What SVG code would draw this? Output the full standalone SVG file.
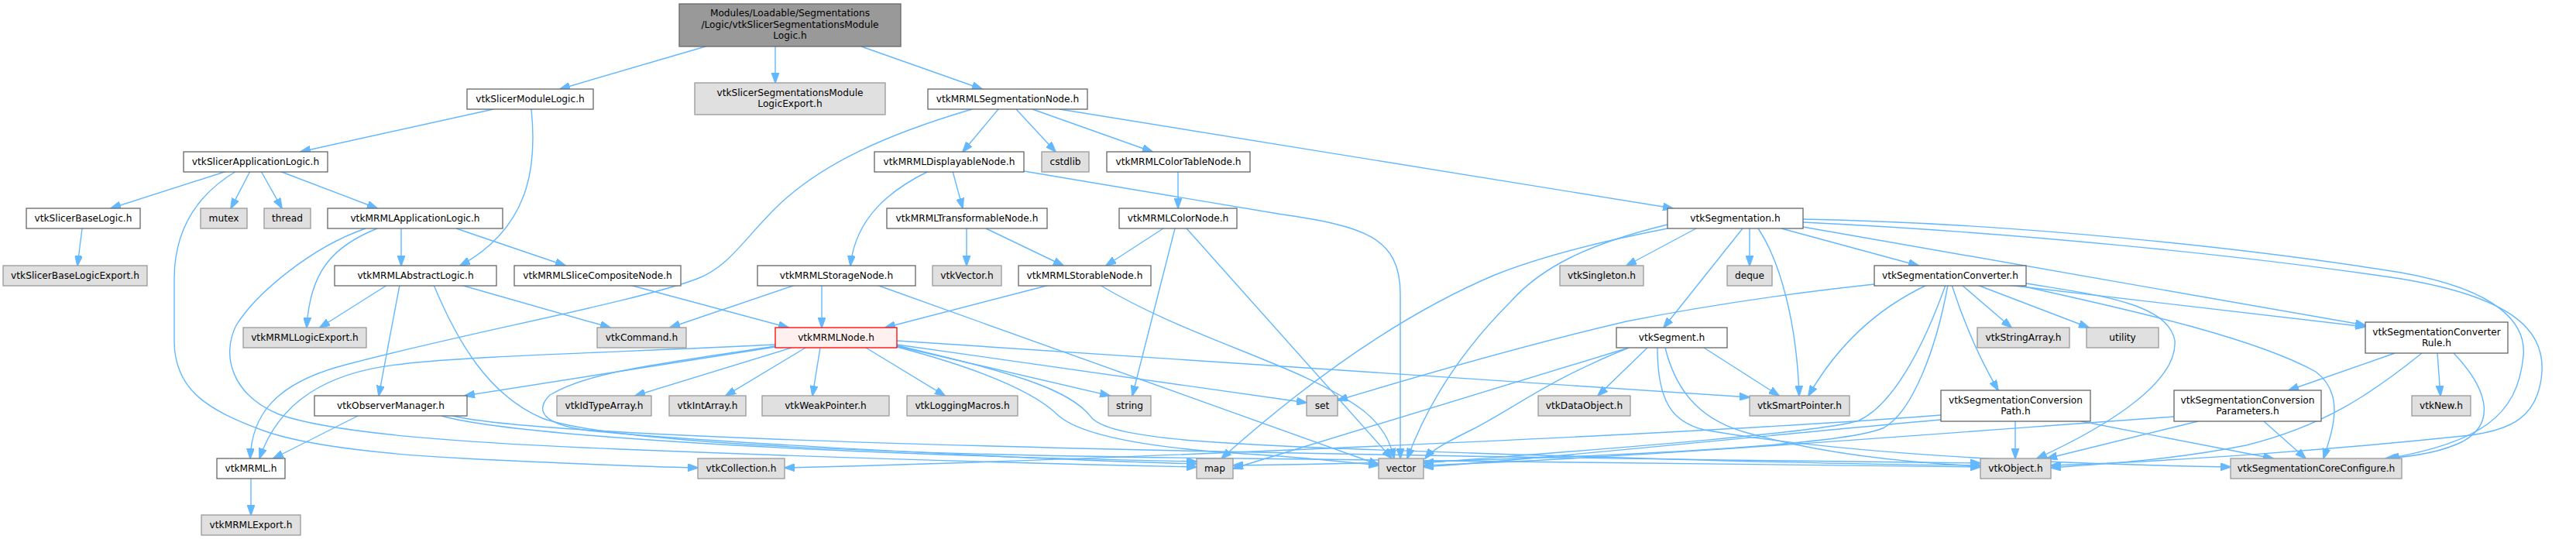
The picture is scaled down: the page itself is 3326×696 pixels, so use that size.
<svg xmlns="http://www.w3.org/2000/svg" width="3326" height="696" viewBox="0 0 3326 696">
<style>
.n rect{stroke-width:1.3}
.w rect{fill:#fff;stroke:#666}
.g rect{fill:#e0e0e0;stroke:#999}
.r rect{fill:#999;stroke:#666}
.m rect{fill:#fff0f0;stroke:#f00}
text{font-family:"DejaVu Sans","Liberation Sans",sans-serif;font-size:12.2px;text-anchor:middle;fill:#000}
#edges path{fill:none;stroke:#63b8ff;stroke-width:1.4;marker-end:url(#a)}
</style>
<defs>
<marker id="a" viewBox="0 0 14 10" refX="13" refY="5" markerWidth="14" markerHeight="10" markerUnits="userSpaceOnUse" orient="auto">
<path d="M0,0 L14,5 L0,10 z" fill="#63b8ff" stroke="#63b8ff" stroke-width="1"/>
</marker>
</defs>
<rect width="3326" height="696" fill="#fff"/>
<g id="edges">
<path d="M911,60 L723,115"/>
<path d="M1001,60 L1001,107"/>
<path d="M1112,60 L1268,115"/>
<path d="M637,141 L388,196"/>
<path d="M686,141 C692,200 692,290 594,343"/>
<path d="M293,221 L143,269"/>
<path d="M305,221 C260,248 225,290 225,360 L225,440 C225,505 270,530 340,556 C400,578 520,588 600,592 C700,597 800,602 901,604"/>
<path d="M323,221 L298,269"/>
<path d="M337,221 L364,269"/>
<path d="M361,221 L487,269"/>
<path d="M487,295 C430,318 400,350 396,423"/>
<path d="M518,295 L518,343"/>
<path d="M589,295 L730,343"/>
<path d="M472,295 C400,320 330,380 305,420 C285,460 300,510 360,535 C430,560 600,572 800,580 C1100,592 1400,600 1545,603"/>
<path d="M1289,141 L1243,196"/>
<path d="M1312,141 L1363,196"/>
<path d="M1333,141 L1488,196"/>
<path d="M1368,141 L2160,269"/>
<path d="M1255,141 C1150,172 1060,210 1000,270 C960,310 940,345 900,360 C820,390 600,430 450,470 C350,495 325,540 323,592"/>
<path d="M1230,221 L1243,269"/>
<path d="M1199,221 C1150,245 1105,280 1098,343"/>
<path d="M1322,221 L1650,276 C1760,292 1808,305 1808,380 L1808,592"/>
<path d="M1521,221 L1521,269"/>
<path d="M1248,295 L1248,343"/>
<path d="M1273,295 L1373,343"/>
<path d="M1502,295 L1428,343"/>
<path d="M1517,295 L1462,511"/>
<path d="M1532,295 L1797,592"/>
<path d="M106,295 L100,343"/>
<path d="M500,368 L413,423"/>
<path d="M516,368 L489,511"/>
<path d="M595,368 L788,423"/>
<path d="M560,368 C590,440 630,510 700,540 C800,575 1200,588 1600,592 C2000,596 2300,600 2557,603"/>
<path d="M813,368 L1018,423"/>
<path d="M1027,368 L865,423"/>
<path d="M1061,368 L1061,423"/>
<path d="M1132,368 L1780,600"/>
<path d="M1355,368 L1143,423"/>
<path d="M1420,368 C1540,440 1680,470 1760,530 C1785,550 1795,570 1800,592"/>
<path d="M1001,445 C800,455 600,460 520,470 C420,480 360,520 335,592"/>
<path d="M1001,448 L600,511"/>
<path d="M1022,449 L820,511"/>
<path d="M1040,449 L937,511"/>
<path d="M1059,449 L1049,511"/>
<path d="M1118,449 L1220,511"/>
<path d="M1158,447 L1433,511"/>
<path d="M1158,445 L1687,520"/>
<path d="M1158,440 L2259,513"/>
<path d="M1158,446 C1300,480 1380,500 1410,540 C1440,570 1600,575 1900,585 C2200,595 2400,600 2557,601"/>
<path d="M1158,448 C1280,480 1340,510 1367,537 C1400,565 1500,580 1623,587 C1700,592 1740,597 1780,601"/>
<path d="M1001,447 C850,470 760,480 710,510 C690,530 700,548 760,556 C900,570 1300,592 1545,599"/>
<path d="M462,537 L353,592"/>
<path d="M570,537 C650,560 1000,585 1545,596"/>
<path d="M585,537 C700,565 1400,585 2557,598"/>
<path d="M324,617 L324,665"/>
<path d="M2190,295 L2100,343"/>
<path d="M2153,290 C2050,315 1990,345 1950,390 C1880,460 1840,530 1817,592"/>
<path d="M2153,295 C2050,315 1980,335 1930,355 C1800,410 1680,500 1577,592"/>
<path d="M2250,295 L2148,423"/>
<path d="M2259,295 L2259,343"/>
<path d="M2270,295 C2300,340 2320,420 2323,511"/>
<path d="M2300,295 L2477,343"/>
<path d="M2328,293 L3054,420"/>
<path d="M2328,283 C2600,288 2900,320 3100,352 C3230,375 3262,420 3258,460 C3250,540 3200,570 3085,592"/>
<path d="M2328,287 C2600,300 2900,330 3100,360 C3250,385 3285,430 3282,480 C3278,540 3240,555 3190,562 C3000,582 2800,596 2648,601"/>
<path d="M2420,367 C2300,380 2200,395 2100,415 C1950,450 1800,495 1727,517"/>
<path d="M2488,368 C2420,400 2370,450 2335,511"/>
<path d="M2512,368 C2490,430 2450,520 2400,543 C2350,560 2000,585 1838,598"/>
<path d="M2515,368 C2500,450 2470,530 2433,552 C2380,578 2000,595 1592,601"/>
<path d="M2520,368 C2540,430 2560,470 2580,504"/>
<path d="M2533,368 L2597,423"/>
<path d="M2553,368 L2697,423"/>
<path d="M2592,368 L3054,422"/>
<path d="M2616,366 C2700,380 2800,390 2808,440 C2812,500 2700,560 2630,592"/>
<path d="M2605,368 C2700,390 2900,430 2990,480 C3030,510 3010,560 3000,592"/>
<path d="M2103,449 L1592,605"/>
<path d="M2103,449 C2000,490 1950,530 1900,555 C1870,570 1850,580 1840,592"/>
<path d="M2127,449 L2063,511"/>
<path d="M2200,449 L2297,511"/>
<path d="M2150,449 C2165,510 2200,545 2260,560 C2350,585 2450,597 2557,602"/>
<path d="M2140,449 C2140,520 2160,545 2200,555 C2400,590 2700,600 2880,603"/>
<path d="M2506,536 C2200,560 1400,595 1013,604"/>
<path d="M2506,542 C2300,560 2000,592 1838,603"/>
<path d="M2602,544 L2602,592"/>
<path d="M2687,544 L2935,592"/>
<path d="M2807,538 C2500,560 2100,592 1838,601"/>
<path d="M2838,544 L2643,592"/>
<path d="M2923,544 L2977,592"/>
<path d="M3092,456 L2955,504"/>
<path d="M3127,456 C3060,510 3000,550 2900,575 C2800,595 2700,600 2648,604"/>
<path d="M3147,456 L3151,511"/>
<path d="M3168,456 C3210,500 3225,545 3180,570 C3150,585 3110,590 3080,592"/>
</g>
<g id="n0" class="n r"><rect x="877" y="5" width="286" height="55"/><text x="1020" y="21">Modules/Loadable/Segmentations</text><text x="1020" y="35.5">/Logic/vtkSlicerSegmentationsModule</text><text x="1020" y="50">Logic.h</text></g>
<g id="n1" class="n w"><rect x="603" y="115" width="163" height="26"/><text x="684.5" y="132.3">vtkSlicerModuleLogic.h</text></g>
<g id="n2" class="n g"><rect x="897" y="107" width="246" height="41"/><text x="1020" y="123.5">vtkSlicerSegmentationsModule</text><text x="1020" y="138">LogicExport.h</text></g>
<g id="n3" class="n w"><rect x="1198" y="115" width="206" height="26"/><text x="1301" y="132.3">vtkMRMLSegmentationNode.h</text></g>
<g id="n4" class="n w"><rect x="237" y="196" width="186" height="26"/><text x="330" y="213.3">vtkSlicerApplicationLogic.h</text></g>
<g id="n5" class="n w"><rect x="1129" y="196" width="193" height="26"/><text x="1225.5" y="213.3">vtkMRMLDisplayableNode.h</text></g>
<g id="n6" class="n g"><rect x="1345" y="196" width="61" height="26"/><text x="1375.5" y="213.3">cstdlib</text></g>
<g id="n7" class="n w"><rect x="1429" y="196" width="185" height="26"/><text x="1521.5" y="213.3">vtkMRMLColorTableNode.h</text></g>
<g id="n8" class="n w"><rect x="34" y="269" width="147" height="26"/><text x="107.5" y="286.3">vtkSlicerBaseLogic.h</text></g>
<g id="n9" class="n g"><rect x="259" y="269" width="60" height="26"/><text x="289" y="286.3">mutex</text></g>
<g id="n10" class="n g"><rect x="341" y="269" width="60" height="26"/><text x="371" y="286.3">thread</text></g>
<g id="n11" class="n w"><rect x="423" y="269" width="226" height="26"/><text x="536" y="286.3">vtkMRMLApplicationLogic.h</text></g>
<g id="n12" class="n w"><rect x="1145" y="269" width="207" height="26"/><text x="1248.5" y="286.3">vtkMRMLTransformableNode.h</text></g>
<g id="n13" class="n w"><rect x="1445" y="269" width="152" height="26"/><text x="1521" y="286.3">vtkMRMLColorNode.h</text></g>
<g id="n14" class="n w"><rect x="2153" y="269" width="175" height="26"/><text x="2240.5" y="286.3">vtkSegmentation.h</text></g>
<g id="n15" class="n g"><rect x="4" y="343" width="186" height="26"/><text x="97" y="360.3">vtkSlicerBaseLogicExport.h</text></g>
<g id="n16" class="n w"><rect x="432" y="343" width="209" height="26"/><text x="536.5" y="360.3">vtkMRMLAbstractLogic.h</text></g>
<g id="n17" class="n w"><rect x="664" y="343" width="215" height="26"/><text x="771.5" y="360.3">vtkMRMLSliceCompositeNode.h</text></g>
<g id="n18" class="n w"><rect x="978" y="343" width="204" height="26"/><text x="1080" y="360.3">vtkMRMLStorageNode.h</text></g>
<g id="n19" class="n g"><rect x="1204" y="343" width="89" height="26"/><text x="1248.5" y="360.3">vtkVector.h</text></g>
<g id="n20" class="n w"><rect x="1315" y="343" width="171" height="26"/><text x="1400.5" y="360.3">vtkMRMLStorableNode.h</text></g>
<g id="n21" class="n g"><rect x="2014" y="343" width="108" height="26"/><text x="2068" y="360.3">vtkSingleton.h</text></g>
<g id="n22" class="n g"><rect x="2230" y="343" width="58" height="26"/><text x="2259" y="360.3">deque</text></g>
<g id="n23" class="n w"><rect x="2420" y="343" width="196" height="26"/><text x="2518" y="360.3">vtkSegmentationConverter.h</text></g>
<g id="n24" class="n g"><rect x="314" y="423" width="159" height="26"/><text x="393.5" y="440.3">vtkMRMLLogicExport.h</text></g>
<g id="n25" class="n g"><rect x="771" y="423" width="115" height="26"/><text x="828.5" y="440.3">vtkCommand.h</text></g>
<g id="n26" class="n m"><rect x="1001" y="423" width="157" height="26"/><text x="1079.5" y="440.3">vtkMRMLNode.h</text></g>
<g id="n27" class="n w"><rect x="2087" y="423" width="143" height="26"/><text x="2158.5" y="440.3">vtkSegment.h</text></g>
<g id="n28" class="n g"><rect x="2553" y="423" width="119" height="26"/><text x="2612.5" y="440.3">vtkStringArray.h</text></g>
<g id="n29" class="n g"><rect x="2694" y="423" width="93" height="26"/><text x="2740.5" y="440.3">utility</text></g>
<g id="n30" class="n w"><rect x="3054" y="416" width="184" height="40"/><text x="3146" y="432.5">vtkSegmentationConverter</text><text x="3146" y="447">Rule.h</text></g>
<g id="n31" class="n w"><rect x="406" y="511" width="197" height="26"/><text x="504.5" y="528.3">vtkObserverManager.h</text></g>
<g id="n32" class="n g"><rect x="719" y="511" width="122" height="26"/><text x="780" y="528.3">vtkIdTypeArray.h</text></g>
<g id="n33" class="n g"><rect x="864" y="511" width="99" height="26"/><text x="913.5" y="528.3">vtkIntArray.h</text></g>
<g id="n34" class="n g"><rect x="984" y="511" width="164" height="26"/><text x="1066" y="528.3">vtkWeakPointer.h</text></g>
<g id="n35" class="n g"><rect x="1171" y="511" width="143" height="26"/><text x="1242.5" y="528.3">vtkLoggingMacros.h</text></g>
<g id="n36" class="n g"><rect x="1431" y="511" width="55" height="26"/><text x="1458.5" y="528.3">string</text></g>
<g id="n37" class="n g"><rect x="1687" y="511" width="40" height="26"/><text x="1707" y="528.3">set</text></g>
<g id="n38" class="n g"><rect x="1986" y="511" width="119" height="26"/><text x="2045.5" y="528.3">vtkDataObject.h</text></g>
<g id="n39" class="n g"><rect x="2259" y="511" width="129" height="26"/><text x="2323.5" y="528.3">vtkSmartPointer.h</text></g>
<g id="n40" class="n w"><rect x="2506" y="504" width="193" height="40"/><text x="2602.5" y="520.5">vtkSegmentationConversion</text><text x="2602.5" y="535">Path.h</text></g>
<g id="n41" class="n w"><rect x="2807" y="504" width="190" height="40"/><text x="2902" y="520.5">vtkSegmentationConversion</text><text x="2902" y="535">Parameters.h</text></g>
<g id="n42" class="n g"><rect x="3114" y="511" width="76" height="26"/><text x="3152" y="528.3">vtkNew.h</text></g>
<g id="n43" class="n w"><rect x="280" y="592" width="88" height="26"/><text x="324" y="609.3">vtkMRML.h</text></g>
<g id="n44" class="n g"><rect x="901" y="592" width="112" height="26"/><text x="957" y="609.3">vtkCollection.h</text></g>
<g id="n45" class="n g"><rect x="1545" y="592" width="47" height="26"/><text x="1568.5" y="609.3">map</text></g>
<g id="n46" class="n g"><rect x="1780" y="592" width="58" height="26"/><text x="1809" y="609.3">vector</text></g>
<g id="n47" class="n g"><rect x="2557" y="592" width="91" height="26"/><text x="2602.5" y="609.3">vtkObject.h</text></g>
<g id="n48" class="n g"><rect x="2880" y="592" width="221" height="26"/><text x="2990.5" y="609.3">vtkSegmentationCoreConfigure.h</text></g>
<g id="n49" class="n g"><rect x="260" y="665" width="128" height="26"/><text x="324" y="682.3">vtkMRMLExport.h</text></g>
</svg>
